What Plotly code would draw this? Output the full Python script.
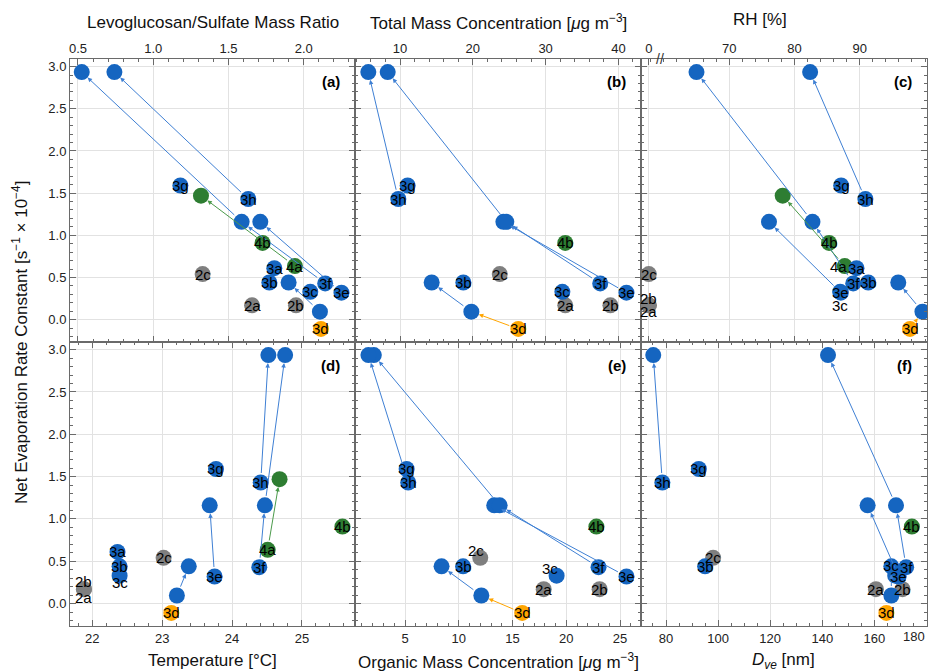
import plotly.graph_objects as go

# ---------------- data ----------------
point_ids = ["2a", "2b", "2c", "4a", "4b", "4a-1",
             "3a", "3b", "3c", "3d", "3e", "3f", "3g", "3h",
             "3d-1", "3d-2", "3e-1", "3f-1", "3f-2", "3h-1"]
point_labels = ["2a", "2b", "2c", "4a", "4b", "",
                "3a", "3b", "3c", "3d", "3e", "3f", "3g", "3h",
                "", "", "", "", "", ""]
point_groups = ["2", "2", "2", "4", "4", "4",
                "3", "3", "3", "3d", "3", "3", "3", "3",
                "3", "3", "3", "3", "3", "3"]
# net evaporation rate constant [s-1 x 1e-4]
k_net = [0.17, 0.17, 0.54, 0.635, 0.91, 1.47,
         0.61, 0.44, 0.33, -0.11, 0.32, 0.43, 1.59, 1.43,
         0.095, 0.44, 1.16, 1.16, 2.935, 2.935]

lev_sulfate = [1.656, 1.948, 1.328, 1.941, 1.726, 1.317,
               1.804, 1.771, 2.043, 2.114, 2.25, 2.142, 1.18, 1.631,
               2.107, 1.899, 1.711, 1.587, 0.525, 0.742]
total_mass = [32.7, 38.9, 23.7, None, 32.7, None,
              None, 18.7, 32.3, 26.25, 41.1, 37.5, 11.05, 9.77,
              19.8, 14.35, 24.2, 24.6, 8.31, 5.65]
rh = [0, 0, 0, 87.7, 85.3, 78.2,
      89.5, 91.3, 87.0, 97.7, 87.1, 89.0, 87.15, 90.86,
      99.6, 95.9, 76.1, 82.76, 65.0, 82.4]
temperature = [21.88, 21.88, 23.02, 24.51, 25.58, 24.68,
               22.36, 22.39, 22.39, 23.13, 23.75, 24.39, 23.77, 24.41,
               23.21, 23.38, 23.68, 24.47, 24.76, 24.52]
organic_mass = [17.9, 23.1, 12.0, None, 22.8, None,
                None, 10.4, 19.1, 15.9, 25.6, 23.0, 5.15, 5.3,
                12.1, 8.4, 13.3, 13.8, 2.1, 1.6]
d_ve = [160.6, 170.8, 98.1, None, 174.4, None,
        None, 95.0, 168.0, 164.6, 169.3, 172.2, 92.6, 78.6,
        166.5, 166.5, 157.4, 168.3, 142.2, 75.1]

# evolution of experiments (from -> to)
transitions = [("3d", "3d-1"), ("3d-1", "3d-2"), ("3e", "3e-1"), ("3f", "3f-1"),
               ("3f-1", "3f-2"), ("3h", "3h-1"), ("4a", "4a-1")]

panel_letters = ["(a)", "(b)", "(c)", "(d)", "(e)", "(f)"]
x_titles = ["Levoglucosan/Sulfate Mass Ratio",
            "Total Mass Concentration [<i>μ</i>g m<sup>−3</sup>]",
            "RH [%]",
            "Temperature [°C]",
            "Organic Mass Concentration [<i>μ</i>g m<sup>−3</sup>]",
            "<i>D</i><sub><i>ve</i></sub> [nm]"]
y_title = "Net Evaporation Rate Constant [s<sup>−1</sup> × 10<sup>−4</sup>]"

# ---------------- style ----------------
W, H = 931, 671
MARKER_COLORS = {"2": "#7f7f7f", "3": "#1565c0", "3d": "#ffa500", "4": "#2e7d32"}
LINE_COLORS = {"2": "#7f7f7f", "3": "#3f80d4", "3d": "#ffa500", "4": "#4b9a4b"}
FRAME = "#6a6a6a"
GRID = "#e2e2e2"
FONT = "Liberation Sans, Arial, sans-serif"

RH_ZERO_POS = 57.7   # display position of RH = 0 (axis break)
RH_BREAK_POS = 59.4


def rh_display(v):
    if v is None:
        return None
    return RH_ZERO_POS + v if v < 50 else v


panel_x = [lev_sulfate, total_mass, [rh_display(v) for v in rh],
           temperature, organic_mass, d_ve]

# label offsets in px for overlapping points (panel index, label) -> (dx, dy)
label_shift = {
    (2, "2b"): (0, 7), (2, "2a"): (0, -6), (2, "3c"): (0, -14), (2, "4a"): (-6, 0),
    (3, "2b"): (0, 8), (3, "2a"): (0, -8), (3, "3c"): (0, -7),
    (4, "2c"): (-4, 7), (4, "3c"): (-7, 7),
    (5, "3c"): (-4, 10),
}

# panel domains (pixels -> paper)
col_px = [(70, 355), (355, 641), (641, 927)]
row_px = [(59, 342), (342, 626)]


def xdom(c):
    return [col_px[c][0] / W, col_px[c][1] / W]


def ydom(r):
    return [1 - row_px[r][1] / H, 1 - row_px[r][0] / H]


fig = go.Figure()
annotations = []

idx = {pid: i for i, pid in enumerate(point_ids)}

for p in range(6):
    ax_n = "" if p == 0 else str(p + 1)
    xr, yr = "x" + ax_n, "y" + ax_n
    xs = panel_x[p]
    keep = [i for i in range(len(point_ids)) if xs[i] is not None]

    fig.add_trace(go.Scatter(
        x=[xs[i] for i in keep], y=[k_net[i] for i in keep],
        mode="markers", xaxis=xr, yaxis=yr, showlegend=False,
        marker=dict(size=16, color=[MARKER_COLORS[point_groups[i]] for i in keep],
                    line=dict(width=0)),
        hoverinfo="skip"))

    # arrows
    for a, b in transitions:
        ia, ib = idx[a], idx[b]
        if xs[ia] is None or xs[ib] is None:
            continue
        annotations.append(dict(
            x=xs[ib], y=k_net[ib], ax=xs[ia], ay=k_net[ia],
            xref=xr, yref=yr, axref=xr, ayref=yr, text="",
            showarrow=True, arrowhead=2, arrowsize=0.9, arrowwidth=1,
            arrowcolor=LINE_COLORS[point_groups[ia]], standoff=8, startstandoff=8))

    # labels
    for i in keep:
        lab = point_labels[i]
        if not lab:
            continue
        dx, dy = label_shift.get((p, lab), (0, 0))
        annotations.append(dict(
            x=xs[i], y=k_net[i], xref=xr, yref=yr, text=lab, showarrow=False,
            xshift=dx, yshift=dy, font=dict(size=15, color="black", family=FONT)))

    # panel letter
    annotations.append(dict(
        x=1, y=1, xref=xr + " domain", yref=yr + " domain", text="<b>%s</b>" % panel_letters[p],
        showarrow=False, xanchor="right", yanchor="middle", xshift=-13, yshift=-23,
        font=dict(size=15, color="black", family=FONT)))

# axis titles
title_pos = [(213, 22), (498, 22), (760, 19), (212, 660), (498, 661), (783, 661)]
for t, (px, py) in zip(x_titles, title_pos):
    annotations.append(dict(x=px / W, y=1 - py / H, xref="paper", yref="paper", text=t,
                            showarrow=False, xanchor="center", yanchor="middle",
                            font=dict(size=17, color="#111", family=FONT)))
annotations.append(dict(x=20 / W, y=1 - 343 / H, xref="paper", yref="paper", text=y_title,
                        textangle=-90, showarrow=False, xanchor="center", yanchor="middle",
                        font=dict(size=17, color="#111", family=FONT)))
# axis break mark on RH axis
annotations.append(dict(x=RH_BREAK_POS, y=ydom(0)[1], xref="x3", yref="paper", text="//",
                        showarrow=False, xanchor="center", yanchor="middle",
                        font=dict(size=14, color="#333", family=FONT)))
# last tick label of D_ve axis, kept inside the figure
annotations.append(dict(x=180, y=1 - 636 / H, xref="x6", yref="paper", text="180",
                        showarrow=False, xanchor="right", yanchor="middle", xshift=1,
                        font=dict(size=13, color="#222", family=FONT)))

base = dict(showline=True, mirror="ticks", linecolor=FRAME, linewidth=1,
            ticks="inside", ticklen=6, tickwidth=1, tickcolor=FRAME,
            showgrid=True, gridcolor=GRID, gridwidth=1, zeroline=False,
            tickfont=dict(size=13, color="#222", family=FONT), automargin=False)

x_specs = [
    dict(range=[0.447, 2.34], dtick=0.5, tick0=0, tickformat=".1f", minor_dtick=0.1),
    dict(range=[3.82, 43.1], dtick=10, tick0=0, minor_dtick=2),
    dict(range=[56.5, 100.3], tickmode="array", tickvals=[RH_ZERO_POS, 70, 80, 90],
         ticktext=["0", "70", "80", "90"], minor_dtick=2),
    dict(range=[21.68, 25.76], dtick=1, tick0=0, minor_dtick=0.2),
    dict(range=[0.35, 26.95], dtick=5, tick0=0, minor_dtick=1),
    dict(range=[70.4, 180.2], tickmode="array", tickvals=[80, 100, 120, 140, 160],
         ticktext=["80", "100", "120", "140", "160"], minor_dtick=5),
]

layout = dict(width=W, height=H, margin=dict(l=0, r=0, t=0, b=0),
              template="none", paper_bgcolor="white", plot_bgcolor="white",
              font=dict(family=FONT), showlegend=False, annotations=annotations)

for p in range(6):
    ax_n = "" if p == 0 else str(p + 1)
    r, c = divmod(p, 3)
    spec = dict(x_specs[p])
    mdt = spec.pop("minor_dtick")
    xa = dict(base, **spec)
    xa.update(domain=xdom(c), anchor="y" + ax_n, side="top" if r == 0 else "bottom",
              minor=dict(ticks="inside", ticklen=3, tickcolor=FRAME, dtick=mdt,
                         tick0=0, showgrid=False))
    ya = dict(base)
    ya.update(domain=ydom(r), anchor="x" + ax_n, range=[-0.265, 3.09], dtick=0.5, tick0=0,
              tickformat=".1f", showticklabels=(c == 0),
              minor=dict(ticks="inside", ticklen=3, tickcolor=FRAME, dtick=0.1,
                         tick0=0, showgrid=False))
    layout["xaxis" + ax_n] = xa
    layout["yaxis" + ax_n] = ya

fig.update_layout(**layout)
fig.write_html("out.html")
